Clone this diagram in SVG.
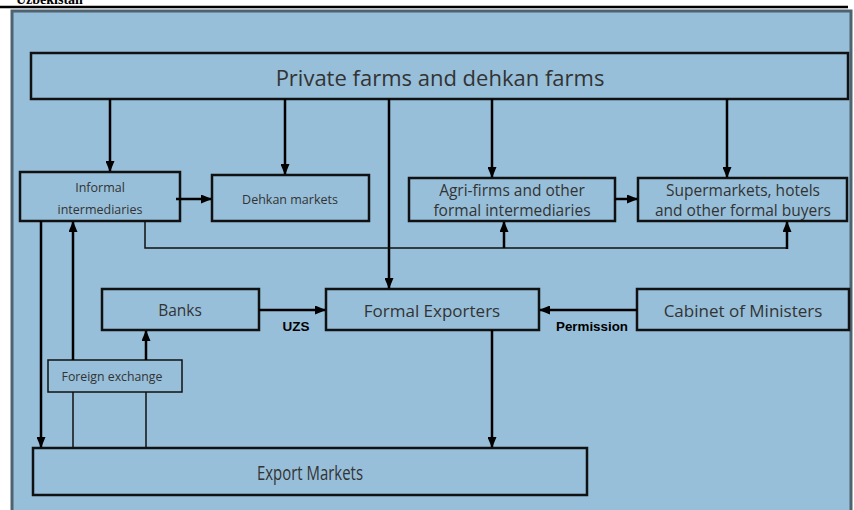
<svg xmlns="http://www.w3.org/2000/svg" width="854" height="510" viewBox="0 0 854 510">
<defs>
<marker id="ah" markerWidth="11" markerHeight="9" refX="10" refY="4.5" orient="auto" markerUnits="userSpaceOnUse">
<path d="M0,0 L11,4.5 L0,9 Z" fill="#000"/>
</marker>
</defs>
<style>
.box{fill:none;stroke:#111;stroke-width:2.5}
.t{font-family:"Open Sans","Noto Sans",sans-serif;fill:#333;text-anchor:middle;dominant-baseline:central}
.c{fill:none;stroke:#000;stroke-width:2.5}
.thin{fill:none;stroke:#111;stroke-width:1.5}
.lbl{font-family:"Liberation Sans Narrow","Liberation Sans",sans-serif;font-weight:bold;fill:#000;text-anchor:middle}
</style>
<rect width="854" height="510" fill="#fff"/>
<text x="16" y="4" font-family="Liberation Serif,serif" font-weight="bold" font-size="14" fill="#000">Uzbekistan</text>
<line x1="0" y1="7" x2="848" y2="7" stroke="#000" stroke-width="2.5"/>
<rect x="12" y="11" width="839" height="504" fill="#97bfda" stroke="#4e6270" stroke-width="3"/>

<g id="n-private"><rect class="box" x="31" y="53" width="817" height="46"/><text class="t" x="440" y="77" font-size="22">Private farms and dehkan farms</text></g>
<g id="n-informal"><rect class="box" x="20" y="172" width="160" height="49"/><text class="t" x="100" y="187" font-size="12.5">Informal</text><text class="t" x="100" y="209" font-size="12.5">intermediaries</text></g>
<g id="n-dehkan"><rect class="box" x="212" y="175" width="157" height="46"/><text class="t" x="290" y="199" font-size="12.5">Dehkan markets</text></g>
<g id="n-agri"><rect class="box" x="409" y="178" width="206" height="43"/><text class="t" x="512" y="190" font-size="15.5">Agri-firms and other</text><text class="t" x="512" y="210" font-size="15.5">formal intermediaries</text></g>
<g id="n-super"><rect class="box" x="638" y="178" width="209" height="43"/><text class="t" x="743" y="190" font-size="15.5">Supermarkets, hotels</text><text class="t" x="743" y="210" font-size="15.5">and other formal buyers</text></g>
<g id="n-banks"><rect class="box" x="102" y="289" width="157" height="41"/><text class="t" x="180" y="310" font-size="15.5">Banks</text></g>
<g id="n-formal"><rect class="box" x="326" y="289" width="213" height="41"/><text class="t" x="432" y="310" font-size="17">Formal Exporters</text></g>
<g id="n-cabinet"><rect class="box" x="637" y="289" width="212" height="41"/><text class="t" x="743" y="310" font-size="17">Cabinet of Ministers</text></g>
<g id="n-forex"><rect class="thin" x="48" y="360" width="134" height="32" stroke-width="2"/><text class="t" x="112" y="376" font-size="12.3" fill="#1e2a3a">Foreign exchange</text></g>
<g id="n-export"><rect class="box" x="33" y="448" width="554" height="47"/><text class="t" x="310" y="472" font-size="20" textLength="106" lengthAdjust="spacingAndGlyphs">Export Markets</text></g>

<g id="connectors">
<line class="c" x1="110" y1="99" x2="110" y2="171" marker-end="url(#ah)"/>
<line class="c" x1="285" y1="99" x2="285" y2="174" marker-end="url(#ah)"/>
<line class="c" x1="389" y1="99" x2="389" y2="288" marker-end="url(#ah)"/>
<line class="c" x1="492" y1="99" x2="492" y2="177" marker-end="url(#ah)"/>
<line class="c" x1="727" y1="99" x2="727" y2="177" stroke-width="3.5" marker-end="url(#ah)"/>
<line class="c" x1="176" y1="199" x2="211" y2="199" marker-end="url(#ah)"/>
<line class="c" x1="615" y1="199" x2="637" y2="199" marker-end="url(#ah)"/>
<polyline class="thin" points="145,221 145,248 787,248"/>
<line class="c" x1="504" y1="248" x2="504" y2="222" marker-end="url(#ah)"/>
<line class="c" x1="787" y1="249" x2="787" y2="222" stroke-width="3.5" marker-end="url(#ah)"/>
<line class="c" x1="41" y1="221" x2="41" y2="447" marker-end="url(#ah)"/>
<line class="c" x1="73" y1="360" x2="73" y2="222" marker-end="url(#ah)"/>
<line class="thin" x1="73" y1="448" x2="73" y2="392"/>
<line class="thin" x1="146" y1="448" x2="146" y2="392"/>
<line class="c" x1="146" y1="360" x2="146" y2="331" marker-end="url(#ah)"/>
<line class="c" x1="259" y1="310" x2="325" y2="310" marker-end="url(#ah)"/>
<line class="c" x1="637" y1="310" x2="540" y2="310" marker-end="url(#ah)"/>
<line class="c" x1="492" y1="330" x2="492" y2="447" marker-end="url(#ah)"/>
<text class="lbl" x="296" y="331" font-size="12.5" textLength="27" lengthAdjust="spacingAndGlyphs">UZS</text>
<text class="lbl" x="592" y="331" font-size="12.5" textLength="72" lengthAdjust="spacingAndGlyphs">Permission</text>
</g>
</svg>
